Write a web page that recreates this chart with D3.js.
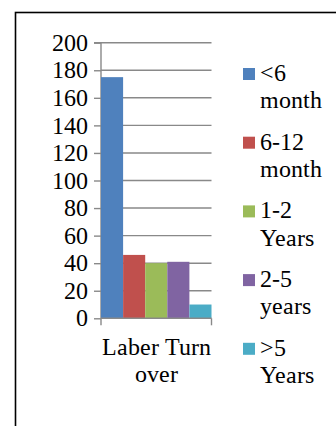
<!DOCTYPE html>
<html>
<head>
<meta charset="utf-8">
<script src="https://cdn.jsdelivr.net/npm/d3@7"></script>
<style>
  @font-face {
    font-family: "ChartSerif";
    src: local("Liberation Serif"), local("LiberationSerif"), local("LiberationSerif-Regular"), local("Times New Roman"), local("Tinos");
    font-display: block;
  }
  html, body { margin: 0; padding: 0; background: #fff; }
  svg { display: block; }
  svg text { font-family: "ChartSerif", "Liberation Serif", "Times New Roman", serif; }
</style>
</head>
<body>
<svg id="chart" width="336" height="426"></svg>
<script>
// Labour turnover by length of service
const categories = ["Laber Turn over"];
const seriesNames = ["<6 month", "6-12 month", "1-2 Years", "2-5 years", ">5 Years"];
const seriesValues = [175, 46, 40, 41, 10];
const seriesColors = ["#4F81BD", "#C0504D", "#9BBB59", "#8064A2", "#4BACC6"];
const yTicks = [0, 20, 40, 60, 80, 100, 120, 140, 160, 180, 200];
const legendLines = [["<6", "month"], ["6-12", "month"], ["1-2", "Years"], ["2-5", "years"], [">5", "Years"]];
const categoryLines = ["Laber Turn", "over"];

const fontSize = 24;
const svg = d3.select("#chart");

// Outer frame
svg.append("rect")
  .attr("x", 15.5).attr("y", 12.5)
  .attr("width", 340).attr("height", 430)
  .attr("fill", "none").attr("stroke", "#000").attr("stroke-width", 1.6);

const plot = { left: 101, right: 211.5, top: 42.7, bottom: 318.3 };

const y = d3.scaleLinear().domain([0, 200]).range([plot.bottom, plot.top]);
const x0 = d3.scaleBand().domain(categories).range([plot.left, plot.right]).padding(0);
const x1 = d3.scaleBand().domain(seriesNames).range([0, x0.bandwidth()]).padding(0);

// Horizontal gridlines
svg.append("g")
  .selectAll("line")
  .data(yTicks.filter(d => d > 0))
  .join("line")
  .attr("x1", plot.left).attr("x2", plot.right)
  .attr("y1", d => y(d)).attr("y2", d => y(d))
  .attr("stroke", "#898989").attr("stroke-width", 1.4);

// Y axis
const yAxis = d3.axisLeft(y).tickValues(yTicks).tickSize(7).tickPadding(6);
const gy = svg.append("g").attr("transform", `translate(${plot.left},0)`).call(yAxis);
gy.attr("font-family", null).attr("font-size", null);
gy.select(".domain").attr("stroke", "#898989").attr("stroke-width", 1.4).attr("d", `M-7,${plot.top}H0V${plot.bottom}`);
gy.selectAll(".tick line").attr("stroke", "#898989").attr("stroke-width", 1.4);
gy.selectAll(".tick text")
  .style("font-size", fontSize + "px").attr("fill", "#000");

// Bars
svg.append("g")
  .selectAll("g")
  .data(categories)
  .join("g")
  .attr("transform", d => `translate(${x0(d)},0)`)
  .selectAll("rect")
  .data(() => seriesNames.map((name, i) => ({ name, value: seriesValues[i], color: seriesColors[i] })))
  .join("rect")
  .attr("x", d => x1(d.name))
  .attr("width", x1.bandwidth())
  .attr("y", d => y(d.value))
  .attr("height", d => y(0) - y(d.value))
  .attr("fill", d => d.color);

// X axis
const xAxisG = svg.append("g").attr("transform", `translate(0,${plot.bottom})`);
xAxisG.append("line")
  .attr("x1", plot.left).attr("x2", plot.right)
  .attr("stroke", "#898989").attr("stroke-width", 1.4);
xAxisG.selectAll("line.tk")
  .data([plot.left, plot.right])
  .join("line").attr("class", "tk")
  .attr("x1", d => d).attr("x2", d => d)
  .attr("y1", 0).attr("y2", 7)
  .attr("stroke", "#898989").attr("stroke-width", 1.4);

// Category label (wrapped)
const catLabel = svg.append("text")
  .attr("text-anchor", "middle")
  .style("font-size", fontSize + "px");
categoryLines.forEach((t, i) => {
  catLabel.append("tspan")
    .attr("x", x0(categories[0]) + x0.bandwidth() / 2)
    .attr("y", 355 + i * 27)
    .text(t);
});

// Legend
const legend = svg.append("g");
legendLines.forEach((lines, i) => {
  const base = 81 + i * 68.7;
  legend.append("rect")
    .attr("x", 243).attr("y", base - 13)
    .attr("width", 12).attr("height", 12)
    .attr("fill", seriesColors[i]);
  const t = legend.append("text")
    .style("font-size", fontSize + "px");
  lines.forEach((ln, j) => {
    t.append("tspan").attr("x", 260).attr("y", base + j * 27.3).text(ln);
  });
});

if (document.fonts && document.fonts.load) {
  document.fonts.load(fontSize + "px ChartSerif", "Years 0123456789");
}
</script>
</body>
</html>
